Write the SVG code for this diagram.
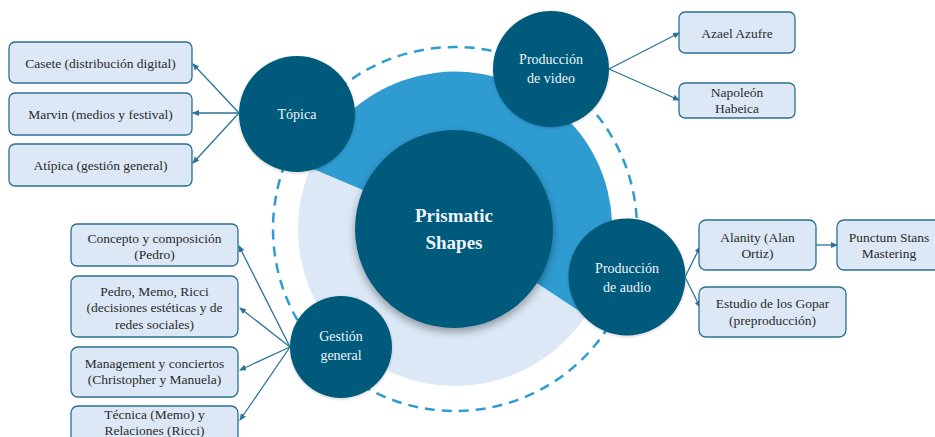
<svg xmlns="http://www.w3.org/2000/svg" width="935" height="437" viewBox="0 0 935 437">
<defs>
<filter id="sh" x="-30%" y="-30%" width="160%" height="160%">
<feDropShadow dx="0" dy="4" stdDeviation="4" flood-color="#000" flood-opacity="0.35"/>
</filter>
<filter id="sh2" x="-30%" y="-30%" width="160%" height="160%">
<feDropShadow dx="0" dy="1" stdDeviation="1.5" flood-color="#000" flood-opacity="0.2"/>
</filter>
<marker id="ah" markerWidth="7" markerHeight="7" refX="6" refY="3.5" orient="auto" markerUnits="userSpaceOnUse">
<path d="M0,0.5 L7,3.5 L0,6.5 Z" fill="#2A7497"/>
</marker>
</defs>
<style>
text{font-family:'Liberation Serif','DejaVu Serif',serif;}
.node{fill:#065A7B;}
.ct{font-size:14px;fill:#EEF4F8;text-anchor:middle;}
.box{fill:#DCE8F6;stroke:#2A6F92;stroke-width:1.3;}
.bt{font-size:13.5px;fill:#2b2b2b;text-anchor:middle;}
.con{stroke:#2A7497;stroke-width:1.3;fill:none;marker-end:url(#ah);}
</style>
<rect width="935" height="437" fill="#ffffff"/>
<g id="ring">
<circle cx="455" cy="229" r="182" fill="none" stroke="#2E9BD1" stroke-width="2.5" stroke-dasharray="10 7"/>
<circle cx="455" cy="229" r="157" fill="#DCE8F6"/>
<path d="M455,229 L310.5,167.7 A157,157 0 1 1 585.9,315.6 Z" fill="#2E9BD1"/>
</g>
<g id="center">
<circle cx="454" cy="229" r="99" class="node" filter="url(#sh)"/>
<text x="454" y="221.5" class="ct" font-family="Liberation Serif" style="font-size:19px;font-weight:bold;">Prismatic</text>
<text x="454" y="248.5" class="ct" font-family="Liberation Serif" style="font-size:19px;font-weight:bold;">Shapes</text>
</g>
<g id="topica">
<circle cx="297" cy="114" r="58" class="node" filter="url(#sh2)"/>
<text x="297" y="119" class="ct">Tópica</text>
</g>
<g id="video">
<circle cx="551" cy="69" r="58" class="node" filter="url(#sh2)"/>
<text x="551" y="64" class="ct">Producción</text>
<text x="551" y="83" class="ct">de video</text>
</g>
<g id="audio">
<circle cx="627" cy="277" r="58.5" class="node" filter="url(#sh2)"/>
<text x="627" y="272.5" class="ct">Producción</text>
<text x="627" y="291.5" class="ct">de audio</text>
</g>
<g id="gestion">
<circle cx="341" cy="347" r="51" class="node" filter="url(#sh2)"/>
<text x="341" y="341" class="ct">Gestión</text>
<text x="341" y="360" class="ct">general</text>
</g>
<g id="connectors">
<line x1="239" y1="113" x2="193" y2="64" class="con"/>
<line x1="239" y1="113" x2="193" y2="113" class="con"/>
<line x1="239" y1="113" x2="193" y2="163" class="con"/>
<line x1="609" y1="69" x2="679" y2="33" class="con"/>
<line x1="609" y1="69" x2="679" y2="100" class="con"/>
<line x1="685" y1="277" x2="700" y2="247" class="con"/>
<line x1="685" y1="277" x2="700" y2="307" class="con"/>
<line x1="816" y1="245" x2="837" y2="245" class="con"/>
<line x1="290" y1="347" x2="239" y2="246" class="con"/>
<line x1="290" y1="347" x2="240" y2="308" class="con"/>
<line x1="290" y1="347" x2="240" y2="370" class="con"/>
<line x1="290" y1="347" x2="240" y2="420" class="con"/>
</g>
<g id="casete">
<rect x="9" y="42" width="183" height="41" rx="6" class="box"/>
<text x="100.5" y="67.5" class="bt">Casete (distribución digital)</text>
</g>
<g id="marvin">
<rect x="9" y="93" width="183" height="42" rx="6" class="box"/>
<text x="100.5" y="118.5" class="bt">Marvin (medios y festival)</text>
</g>
<g id="atipica">
<rect x="9" y="144" width="183" height="42" rx="6" class="box"/>
<text x="100.5" y="169.5" class="bt">Atípica (gestión general)</text>
</g>
<g id="azael">
<rect x="679" y="12" width="116" height="41" rx="6" class="box"/>
<text x="737" y="37.5" class="bt">Azael Azufre</text>
</g>
<g id="napoleon">
<rect x="679" y="83" width="116" height="35" rx="6" class="box"/>
<text x="737" y="96.5" class="bt">Napoleón</text>
<text x="737" y="112.5" class="bt">Habeica</text>
</g>
<g id="alanity">
<rect x="699" y="220" width="117" height="50" rx="7" class="box"/>
<text x="757.5" y="241.5" class="bt">Alanity (Alan</text>
<text x="757.5" y="258" class="bt">Ortiz)</text>
</g>
<g id="punctum">
<rect x="837" y="220" width="106" height="50" rx="7" class="box"/>
<text x="889" y="241.5" class="bt">Punctum Stans</text>
<text x="889" y="258" class="bt">Mastering</text>
</g>
<g id="estudio">
<rect x="699" y="287" width="147" height="50" rx="7" class="box"/>
<text x="772.5" y="308" class="bt">Estudio de los Gopar</text>
<text x="772.5" y="324.5" class="bt">(preproducción)</text>
</g>
<g id="concepto">
<rect x="71" y="224" width="167" height="42" rx="6" class="box"/>
<text x="154.5" y="242.5" class="bt">Concepto y composición</text>
<text x="154.5" y="258.5" class="bt">(Pedro)</text>
</g>
<g id="pedro">
<rect x="71" y="276" width="167" height="61" rx="7" class="box"/>
<text x="154.5" y="295.5" class="bt">Pedro, Memo, Ricci</text>
<text x="154.5" y="312" class="bt">(decisiones estéticas y de</text>
<text x="154.5" y="328.5" class="bt">redes sociales)</text>
</g>
<g id="management">
<rect x="71" y="347" width="167" height="50" rx="7" class="box"/>
<text x="154.5" y="367.5" class="bt">Management y conciertos</text>
<text x="154.5" y="384" class="bt">(Christopher y Manuela)</text>
</g>
<g id="tecnica">
<rect x="71" y="406" width="167" height="45" rx="7" class="box"/>
<text x="154.5" y="419" class="bt">Técnica (Memo) y</text>
<text x="154.5" y="435" class="bt">Relaciones (Ricci)</text>
</g>
</svg>
